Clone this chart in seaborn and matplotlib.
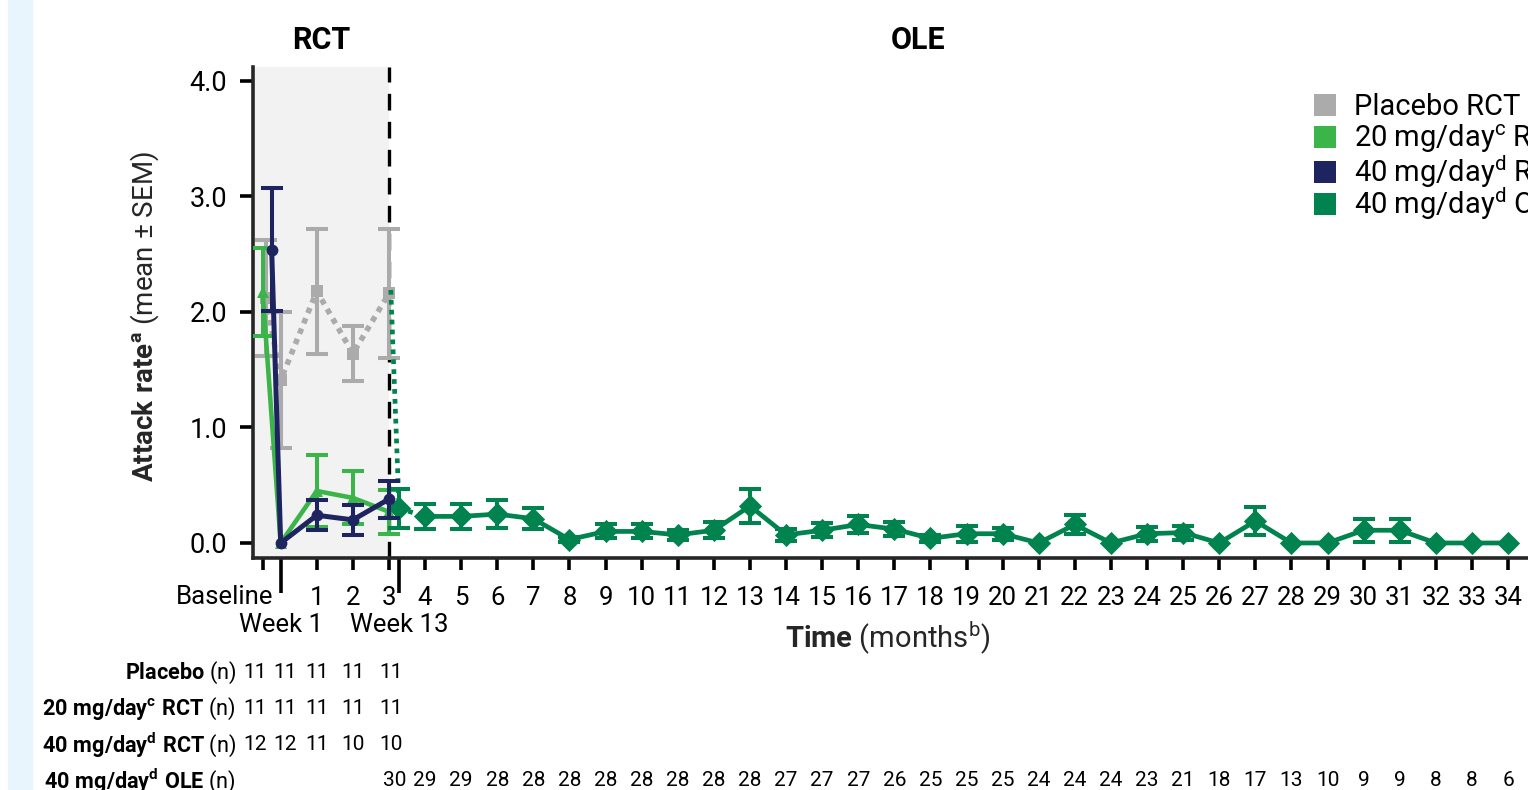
import matplotlib
matplotlib.use("Agg")
import matplotlib.pyplot as plt
import matplotlib.transforms as mtransforms
from matplotlib import font_manager
from matplotlib.lines import Line2D
from matplotlib.patches import Rectangle
import numpy as np
import pandas as pd
import seaborn as sns

# ---------------- data ----------------
# RCT period (Baseline, Week 1, Months 1-3)
placebo_x = [-0.4, 0.0, 1.0, 2.0, 3.0]
placebo_mean = [2.12, 1.41, 2.18, 1.64, 2.16]
placebo_sem = [0.50, 0.59, 0.54, 0.24, 0.56]

dose20_x = [-0.5, 0.0, 1.0, 2.0, 3.0]
dose20_mean = [2.17, 0.00, 0.45, 0.39, 0.27]
dose20_sem = [0.38, 0.00, 0.31, 0.23, 0.19]

dose40_x = [-0.25, 0.0, 1.0, 2.0, 3.0]
dose40_mean = [2.54, 0.00, 0.24, 0.20, 0.38]
dose40_sem = [0.53, 0.00, 0.13, 0.13, 0.16]

# OLE period (OLE baseline, Week 13, Months 4-34)
ole_base_x = 3.05
ole_base_mean = 2.19
ole_x = [3.28, 4, 5, 6, 7, 8, 9, 10, 11, 12, 13, 14, 15, 16, 17, 18, 19,
         20, 21, 22, 23, 24, 25, 26, 27, 28, 29, 30, 31, 32, 33, 34]
ole_mean = [0.30, 0.23, 0.23, 0.25, 0.21, 0.03, 0.10, 0.10, 0.07, 0.11, 0.32,
            0.07, 0.11, 0.16, 0.12, 0.04, 0.08, 0.08, 0.00, 0.16, 0.00, 0.08,
            0.09, 0.00, 0.19, 0.00, 0.00, 0.11, 0.11, 0.00, 0.00, 0.00]
ole_sem = [0.17, 0.11, 0.11, 0.12, 0.09, 0.02, 0.06, 0.06, 0.04, 0.07, 0.15,
           0.05, 0.06, 0.07, 0.06, 0.03, 0.07, 0.05, 0.00, 0.08, 0.00, 0.06,
           0.06, 0.00, 0.12, 0.00, 0.00, 0.10, 0.10, 0.00, 0.00, 0.00]

# patients at risk
n_rct_x = [-0.70, 0.12, 1.0, 2.0, 3.05]
n_ole_x = [3.15] + ole_x[1:]
placebo_n = [11, 11, 11, 11, 11]
dose20_n = [11, 11, 11, 11, 11]
dose40_n = [12, 12, 11, 10, 10]
ole_n = [30, 29, 29, 28, 28, 28, 28, 28, 28, 28, 28, 27, 27, 27, 26, 25, 25,
         25, 24, 24, 24, 23, 21, 18, 17, 13, 10, 9, 9, 8, 8, 6]

month_ticks = list(range(1, 35))
month_labels = [str(m) for m in month_ticks]
baseline_tick = -0.5
week_ticks = [0.0, 3.28]
week_labels = ["Week 1", "Week 13"]

series_labels = ["Placebo RCT", "20 mg/day$^{\\mathrm{c}}$ RCT",
                 "40 mg/day$^{\\mathrm{d}}$ RCT", "40 mg/day$^{\\mathrm{d}}$ OLE"]

# ---------------- style ----------------
C_PLACEBO = "#ABABAB"
C_20 = "#3BB54A"
C_40 = "#1E2460"
C_OLE = "#00834F"

sns.set_theme(style="ticks")
available = {f.name for f in font_manager.fontManager.ttflist}
FONT = "Roboto" if "Roboto" in available else "DejaVu Sans"
plt.rcParams["font.family"] = [FONT, "DejaVu Sans"]
plt.rcParams["mathtext.fontset"] = "custom"
plt.rcParams["mathtext.rm"] = FONT
plt.rcParams["mathtext.it"] = FONT + ":italic"
plt.rcParams["mathtext.bf"] = FONT + ":bold"
plt.rcParams["mathtext.sf"] = FONT
plt.rcParams["axes.linewidth"] = 2.6
plt.rcParams["text.color"] = "black"

W, H = 1528, 790
fig = plt.figure(figsize=(W / 100, H / 100), dpi=100)
fig.patch.set_facecolor("white")
fig.add_artist(Rectangle((8 / W, 0), 24 / W, 1, transform=fig.transFigure,
                         color="#E9F5FC", zorder=-5))

ax_left, ax_right, ax_top, ax_bottom = 253, 1560, 67, 558
ax = fig.add_axes([ax_left / W, 1 - ax_bottom / H,
                   (ax_right - ax_left) / W, (ax_bottom - ax_top) / H])
ax.set_facecolor("none")

x_left = -0.767
x_right = 35.44
ax.set_xlim(x_left, x_right)
ax.set_ylim(-0.13, 4.12)

# RCT shading and separator
ax.axvspan(x_left, 3.0, color="#F2F2F2", zorder=0, lw=0)
ax.axvline(3.0, color="black", lw=2.4, ls=(0, (5, 3.4)), zorder=1.5)

CAP = 8
EW = 2.9


def draw_series(xs, means, sems, color, marker, ms, ls, lw, z):
    df = pd.DataFrame({"x": xs, "y": means})
    sns.lineplot(data=df, x="x", y="y", ax=ax, color=color, lw=lw,
                 linestyle=ls, marker=marker, markersize=ms,
                 markeredgewidth=0, errorbar=None, zorder=z, sort=False)
    keep = [i for i, s in enumerate(sems) if s > 0]
    ax.errorbar([xs[i] for i in keep], [means[i] for i in keep],
                yerr=[sems[i] for i in keep], fmt="none", ecolor=color,
                elinewidth=EW, capsize=CAP, capthick=EW, zorder=z)


draw_series(placebo_x, placebo_mean, placebo_sem, C_PLACEBO, "s", 8.5,
            (0, (1, 1.0)), 4.0, 3)
draw_series(dose20_x, dose20_mean, dose20_sem, C_20, "^", 8.5, "-", 3.3, 4)

# OLE: dotted lead-in from OLE baseline, solid from month 4
lead = pd.DataFrame({"x": [ole_base_x, ole_x[0], ole_x[1]],
                     "y": [ole_base_mean, ole_mean[0], ole_mean[1]]})
sns.lineplot(data=lead, x="x", y="y", ax=ax, color=C_OLE, lw=3.4,
             linestyle=(0, (1, 1.1)), errorbar=None, zorder=5, sort=False)
ole_df = pd.DataFrame({"x": ole_x, "y": ole_mean})
sns.lineplot(data=ole_df.iloc[1:], x="x", y="y", ax=ax, color=C_OLE, lw=3.4,
             errorbar=None, zorder=5, sort=False)
sns.scatterplot(data=ole_df, x="x", y="y", ax=ax, color=C_OLE, marker="D",
                s=140, linewidth=0, zorder=5.5)
keep = [i for i, s in enumerate(ole_sem) if s > 0]
ax.errorbar([ole_x[i] for i in keep], [ole_mean[i] for i in keep],
            yerr=[ole_sem[i] for i in keep], fmt="none", ecolor=C_OLE,
            elinewidth=EW, capsize=CAP, capthick=EW, zorder=5)

draw_series(dose40_x, dose40_mean, dose40_sem, C_40, "o", 8.5, "-", 3.6, 6)

# ---------------- axes ----------------
sns.despine(ax=ax)
ax.set_yticks([0, 1, 2, 3, 4])
ax.set_yticklabels([f"{v:.1f}" for v in [0, 1, 2, 3, 4]])
ax.tick_params(axis="y", length=9.5, width=2.6, pad=9, labelsize=19.5,
               color="black", labelcolor="black")

ax.set_xticks([baseline_tick] + month_ticks)
ax.set_xticklabels([""] + month_labels)
ax.set_xticks(week_ticks, minor=True)
ax.tick_params(axis="x", which="major", length=8.6, width=2.6, pad=11.5,
               labelsize=18.5, color="black", labelcolor="black")
ax.tick_params(axis="x", which="minor", length=25, width=2.6, color="black")

tx = mtransforms.blended_transform_factory(ax.transData, fig.transFigure)
ax.text(-0.2, 1 - 597 / H, "Baseline", transform=tx, ha="right",
        va="center", fontsize=18.5)
for xv, lab in zip(week_ticks, week_labels):
    ax.text(xv, 1 - 625 / H, lab, transform=tx, ha="center", va="center",
            fontsize=18.5)

ax.text(1.11, 1 - 40 / H, "RCT", transform=tx, ha="center", va="center",
        fontsize=22, fontweight="bold")
ax.text(17.67, 1 - 40 / H, "OLE", transform=tx, ha="center", va="center",
        fontsize=22, fontweight="bold")

ax.set_ylabel(r"$\mathbf{Attack\ rate}^{\mathbf{a}}$ (mean ± SEM)",
              fontsize=20)
ax.yaxis.set_label_coords(161 / W, 1 - 317 / H, transform=fig.transFigure)
ax.set_xlabel(r"$\mathbf{Time}$ (months$^{\mathrm{b}}$)", fontsize=21)
ax.xaxis.set_label_coords(888 / W, 1 - 620 / H, transform=fig.transFigure)

# ---------------- legend (one entry per row, evenly spaced) ----------------
legend_colors = [C_PLACEBO, C_20, C_40, C_OLE]
legend_rows = [107, 139, 172, 204]
for i, (c, lab, yp) in enumerate(zip(legend_colors, series_labels, legend_rows)):
    h = Line2D([], [], ls="", marker="s", ms=15.5, markeredgewidth=0, color=c)
    leg = ax.legend([h], [lab], loc="center left",
                    bbox_to_anchor=(1313 / W, 1 - yp / H),
                    bbox_transform=fig.transFigure, frameon=False,
                    fontsize=21, borderpad=0, borderaxespad=0,
                    handlelength=0.8, handletextpad=0.6)
    if i < len(series_labels) - 1:
        ax.add_artist(leg)

# ---------------- at-risk table ----------------
rows = [
    (r"$\mathbf{Placebo}$ (n)", n_rct_x, placebo_n),
    (r"$\mathbf{20\ mg/day}^{\mathbf{c}}\mathbf{\ RCT}$ (n)", n_rct_x, dose20_n),
    (r"$\mathbf{40\ mg/day}^{\mathbf{d}}\mathbf{\ RCT}$ (n)", n_rct_x, dose40_n),
    (r"$\mathbf{40\ mg/day}^{\mathbf{d}}\mathbf{\ OLE}$ (n)", n_ole_x, ole_n),
]
row_y = [673, 709, 745, 781]
for (lab, xs, ns), yp in zip(rows, row_y):
    fig.text(236 / W, 1 - yp / H, lab, ha="right", va="center", fontsize=15.6)
    for xv, nv in zip(xs, ns):
        ax.text(xv, 1 - yp / H, str(nv), transform=tx, ha="center",
                va="center", fontsize=15.0)

fig.savefig("out.png", dpi=100)
